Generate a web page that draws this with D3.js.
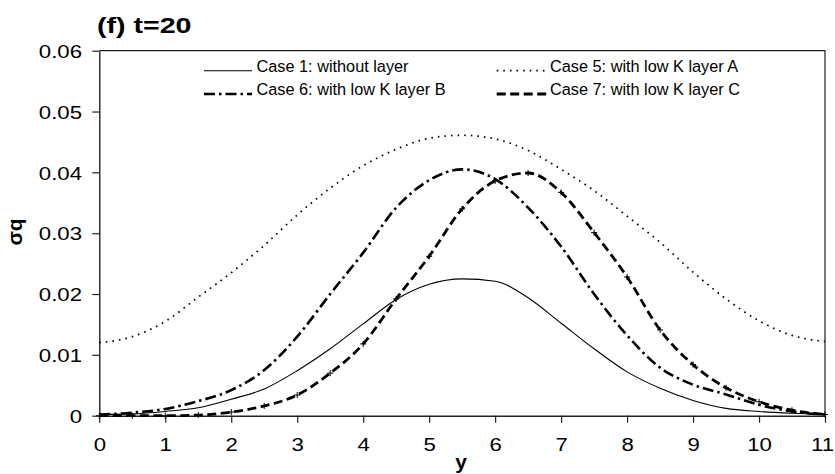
<!DOCTYPE html>
<html>
<head>
<meta charset="utf-8">
<script src="https://cdn.jsdelivr.net/npm/d3@7"></script>
<style>
  body { margin: 0; background: #fff; }
  svg { display: block; font-family: "Liberation Sans", Arial, sans-serif; }
</style>
</head>
<body>
<div id="chart"></div>
<script>
// y position (x axis) where the values were read
const ypos = [0, 0.5, 1, 1.5, 2, 2.5, 3, 3.5, 4, 4.5, 5, 5.5, 6, 6.5, 7, 7.5, 8, 8.5, 9, 9.5, 10, 10.5, 11];

const case1 = [0.0002, 0.0003, 0.0007, 0.0013, 0.0027, 0.0044, 0.0074, 0.0110, 0.0151, 0.0191, 0.0216, 0.0225, 0.0221, 0.0194, 0.0152, 0.0110, 0.0072, 0.0045, 0.0025, 0.0012, 0.0007, 0.0004, 0.0002];
const case5 = [0.0120, 0.0130, 0.0155, 0.0195, 0.0235, 0.0280, 0.0330, 0.0374, 0.0411, 0.0438, 0.0456, 0.0461, 0.0455, 0.0436, 0.0405, 0.0370, 0.0328, 0.0285, 0.0236, 0.0192, 0.0156, 0.0132, 0.0122];
const case6 = [0.0002, 0.0005, 0.0011, 0.0024, 0.0042, 0.0075, 0.0130, 0.0200, 0.0268, 0.0342, 0.0387, 0.0405, 0.0389, 0.0342, 0.0278, 0.0200, 0.0132, 0.0079, 0.0051, 0.0035, 0.0018, 0.0007, 0.0002];
const case7 = [0.0000, 0.0000, 0.0000, 0.0001, 0.0006, 0.0016, 0.0034, 0.0070, 0.0118, 0.0192, 0.0262, 0.0340, 0.0386, 0.0399, 0.0367, 0.0301, 0.0228, 0.0141, 0.0084, 0.0046, 0.0023, 0.0009, 0.0002];

const seriesNames = ["Case 1: without layer", "Case 5: with low K layer A", "Case 6: with low K layer B", "Case 7: with low K layer C"];
const xTicks = [0, 1, 2, 3, 4, 5, 6, 7, 8, 9, 10, 11];
const yTicks = [0, 0.01, 0.02, 0.03, 0.04, 0.05, 0.06];
const yTickLabels = ["0", "0.01", "0.02", "0.03", "0.04", "0.05", "0.06"];

const W = 835, H = 474;
const mLeft = 99.3, mRight = 825, mTop = 50.7, mBottom = 415.7;

const svg = d3.select("#chart").append("svg")
    .attr("width", W).attr("height", H)
    .attr("viewBox", [0, 0, W, H]);

const x = d3.scaleLinear().domain([0, 11]).range([mLeft, mRight]);
const y = d3.scaleLinear().domain([0, 0.06]).range([mBottom, mTop]);

// plot frame (top + right)
svg.append("path")
    .attr("d", `M${mLeft},${mTop}H${mRight}V${mBottom}`)
    .attr("fill", "none").attr("stroke", "#222").attr("stroke-width", 1.2);

// axes
const gy = svg.append("g").attr("transform", `translate(${mLeft},0)`)
    .call(d3.axisLeft(y).tickValues(yTicks).tickSize(7).tickSizeOuter(0)
        .tickFormat((d, i) => yTickLabels[i]));
const gx = svg.append("g").attr("transform", `translate(0,${mBottom})`)
    .call(d3.axisBottom(x).tickValues(xTicks).tickSize(7).tickSizeOuter(0)
        .tickFormat(d3.format("d")));

[gx, gy].forEach(g => {
    g.select(".domain").attr("stroke", "#222").attr("stroke-width", 1.4);
    g.selectAll(".tick line").attr("stroke", "#222").attr("stroke-width", 1.2);
    g.selectAll("text").attr("font-size", 18.5).attr("fill", "#000")
        .attr("font-family", "Liberation Sans, Arial, sans-serif");
});
gy.selectAll(".tick text").attr("x", -14.4).attr("dy", "0.36em")
    .attr("transform", "scale(1.2,1)");
gx.selectAll(".tick text").attr("y", 35).attr("dy", 0)
    .attr("x", d => d === 11 ? -2.5 : 0)   // keep the last label inside the page
    .attr("transform", "scale(1.2,1)");

// lines
const styles = [
    { data: case1, width: 1.1, dash: null },
    { data: case5, width: 1.7, dash: "1.6,5" },
    { data: case6, width: 2.6, dash: "11,4,2.5,4" },
    { data: case7, width: 2.8, dash: "9,4.5" }
];

const line = d3.line()
    .x((d, i) => x(ypos[i]))
    .y(d => y(d))
    .curve(d3.curveMonotoneX);

svg.append("g").selectAll("path")
    .data(styles)
    .join("path")
    .attr("d", d => line(d.data))
    .attr("fill", "none")
    .attr("stroke", "#000")
    .attr("stroke-width", d => d.width)
    .attr("stroke-dasharray", d => d.dash);

// small + markers along case 7
svg.append("g").selectAll("path")
    .data(case7)
    .join("path")
    .attr("d", (d, i) => `M${x(ypos[i]) - 3},${y(d)}h6M${x(ypos[i])},${y(d) - 3}v6`)
    .attr("stroke", "#000").attr("stroke-width", 1);

// legend
const legendPos = [
    { x1: 204, x2: 252, y: 70.7, tx: 256.5 },
    { x1: 496.7, x2: 546.7, y: 70.7, tx: 550 },
    { x1: 204, x2: 252, y: 94, tx: 256.5 },
    { x1: 496.7, x2: 546.7, y: 94, tx: 550 }
];
const lg = svg.append("g").selectAll("g").data(styles).join("g");
lg.append("line")
    .attr("x1", (d, i) => legendPos[i].x1).attr("x2", (d, i) => legendPos[i].x2)
    .attr("y1", (d, i) => legendPos[i].y).attr("y2", (d, i) => legendPos[i].y)
    .attr("stroke", "#000")
    .attr("stroke-width", d => d.width)
    .attr("stroke-dasharray", d => d.dash);
lg.append("text")
    .attr("x", (d, i) => legendPos[i].tx)
    .attr("y", (d, i) => legendPos[i].y + 1.2)
    .attr("font-size", 16.3)
    .text((d, i) => seriesNames[i]);

// title and axis titles
svg.append("text")
    .attr("transform", "translate(97,33.3) scale(1.33,1)")
    .attr("font-size", 21.5).attr("font-weight", "bold")
    .text("(f) t=20");

svg.append("text")
    .attr("transform", "translate(22,232) rotate(-90)")
    .attr("text-anchor", "middle")
    .attr("font-size", 21).attr("font-weight", "bold")
    .text("σq");

svg.append("text")
    .attr("x", 461).attr("y", 469)
    .attr("text-anchor", "middle")
    .attr("font-size", 21).attr("font-weight", "bold")
    .text("y");
</script>
</body>
</html>
